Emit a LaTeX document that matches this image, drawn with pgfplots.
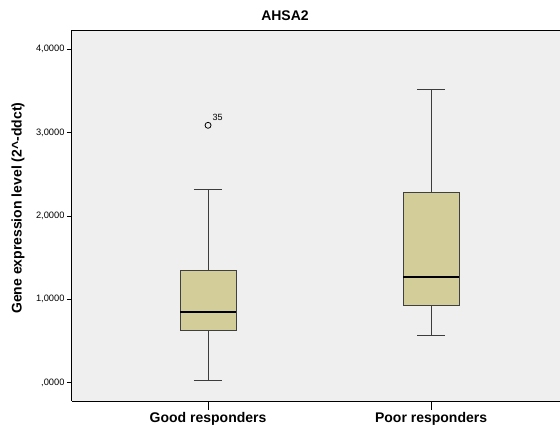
\documentclass[border=0pt]{standalone}
\usepackage{pgfplots}
\pgfplotsset{compat=1.18}
\usepgfplotslibrary{statistics}
\usepackage{fontspec}
\setmainfont{Liberation Sans}
\definecolor{bgc}{RGB}{239,239,239}
\definecolor{boxc}{RGB}{211,206,153}
\definecolor{whc}{RGB}{60,60,60}
\begin{document}
\begin{tikzpicture}
\begin{axis}[
  at={(0,0)}, anchor=south west,
  scale only axis, width=488pt, height=370.7pt,
  xmin=0.39, xmax=2.578, ymin=-0.219, ymax=4.225,
  axis background/.style={fill=bgc},
  axis x line*=box, axis y line*=left,
  axis line style={line width=1pt, black},
  xtick={1,2}, xticklabels={Good responders, Poor responders},
  ytick={0,1,2,3,4}, yticklabels={{,0000},{1,0000},{2,0000},{3,0000},{4,0000}},
  xtick pos=bottom, ytick pos=left,
  tick align=outside,
  major tick length=5pt,
  x tick style={draw=none},
  y tick style={line width=0.8pt, black},
  xticklabel style={font=\fontsize{14}{14}\selectfont\bfseries, yshift=-3pt},
  yticklabel style={font=\fontsize{9.3}{9.3}\selectfont, xshift=1pt},
  clip=false,
  boxplot/draw direction=y,
]
\addplot+[
  boxplot prepared={draw position=1, lower whisker=0.032, lower quartile=0.632,
    median=0.851, upper quartile=1.343, upper whisker=2.314,
    box extend=0.251, whisker extend=0.126},
  draw=whc, line width=0.8pt, fill=boxc, solid,
  mark=o, mark size=3pt, mark options={black, line width=0.8pt, fill=none},
  boxplot/every median/.style={black, line width=2.2pt},
  boxplot/every box/.style={draw=black!75, line width=0.9pt, fill=boxc},
] table[row sep=\\, y index=0] {3.086\\};
\addplot+[
  boxplot prepared={draw position=2, lower whisker=0.568, lower quartile=0.923,
    median=1.271, upper quartile=2.287, upper whisker=3.518,
    box extend=0.251, whisker extend=0.126},
  draw=whc, line width=0.8pt, fill=boxc, solid, mark=none,
  boxplot/every median/.style={black, line width=2.2pt},
  boxplot/every box/.style={draw=black!75, line width=0.9pt, fill=boxc},
] coordinates {};
\draw[black, line width=0.8pt] (axis cs:1,-0.219) -- ([yshift=-9pt]axis cs:1,-0.219);
\draw[black, line width=0.8pt] (axis cs:2,-0.219) -- ([yshift=-9pt]axis cs:2,-0.219);
\node[font=\fontsize{9}{9}\selectfont, anchor=south west, inner sep=0pt] at (axis cs:1.02,3.14) {35};
\node[font=\fontsize{14}{14}\selectfont\bfseries, anchor=base] at ([yshift=10.3pt]rel axis cs:0.4365,1) {AHSA2};
\node[font=\fontsize{14}{14}\selectfont\bfseries, rotate=90, anchor=center] at ([xshift=-54pt]rel axis cs:0,0.52) {Gene expression level (2\textasciicircum-ddct)};
\end{axis}
\pgfresetboundingbox
\useasboundingbox (-72pt,-28pt) rectangle (488pt,401pt);
\end{tikzpicture}
\end{document}
